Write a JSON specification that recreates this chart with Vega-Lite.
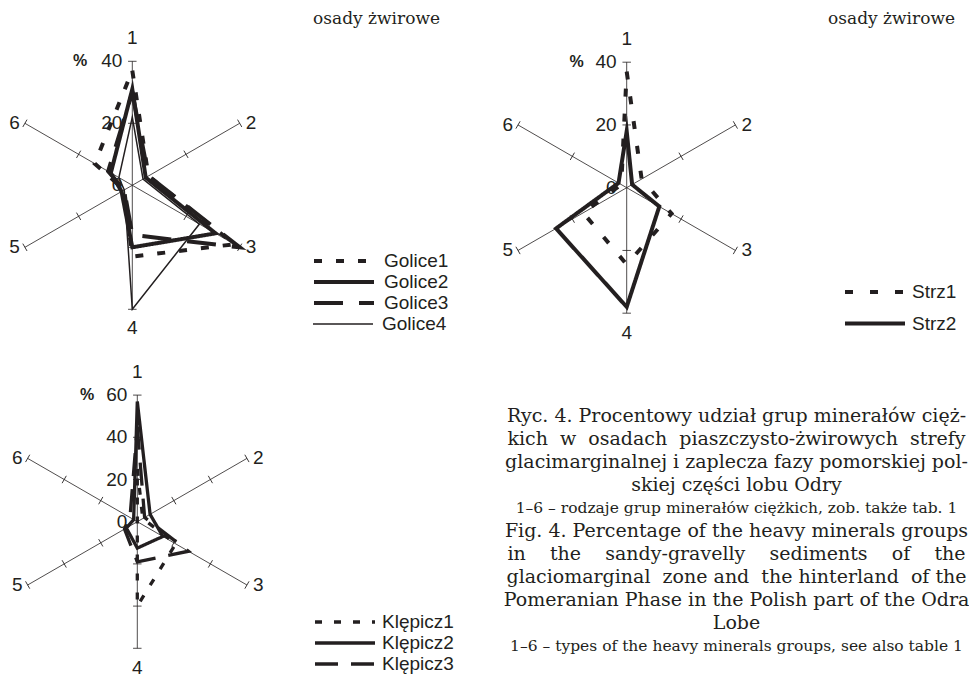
{
  "$schema": "https://vega.github.io/schema/vega-lite/v6.json",
  "padding": {"top": 10, "left": 0, "right": 0, "bottom": 0},
  "background": "white",
  "config": {
    "view": {"stroke": null},
    "text": {"font": "Liberation Sans", "color": "#231f20"},
    "title": {"font": "DejaVu Serif", "fontSize": 17, "fontWeight": "normal", "color": "#231f20", "offset": -7},
    "legend": {
      "orient": "none",
      "symbolType": "stroke",
      "symbolSize": 3600,
      "symbolStrokeColor": "#231f20",
      "labelFont": "Liberation Sans",
      "labelFontSize": 19,
      "labelColor": "#231f20",
      "labelOffset": 6,
      "clipHeight": 20,
      "padding": 0
    }
  },
  "datasets": {
    "golice": [
      {"series": "Golice1", "axis": 1, "value": 37}, {"series": "Golice1", "axis": 2, "value": 6}, {"series": "Golice1", "axis": 3, "value": 38},
      {"series": "Golice1", "axis": 4, "value": 23}, {"series": "Golice1", "axis": 5, "value": 3}, {"series": "Golice1", "axis": 6, "value": 14},
      {"series": "Golice2", "axis": 1, "value": 31}, {"series": "Golice2", "axis": 2, "value": 5}, {"series": "Golice2", "axis": 3, "value": 31},
      {"series": "Golice2", "axis": 4, "value": 20}, {"series": "Golice2", "axis": 5, "value": 4}, {"series": "Golice2", "axis": 6, "value": 8},
      {"series": "Golice3", "axis": 1, "value": 30}, {"series": "Golice3", "axis": 2, "value": 6}, {"series": "Golice3", "axis": 3, "value": 40},
      {"series": "Golice3", "axis": 4, "value": 16}, {"series": "Golice3", "axis": 5, "value": 3}, {"series": "Golice3", "axis": 6, "value": 9},
      {"series": "Golice4", "axis": 1, "value": 22}, {"series": "Golice4", "axis": 2, "value": 4}, {"series": "Golice4", "axis": 3, "value": 25},
      {"series": "Golice4", "axis": 4, "value": 40}, {"series": "Golice4", "axis": 5, "value": 3}, {"series": "Golice4", "axis": 6, "value": 5}
    ],
    "strz": [
      {"series": "Strz1", "axis": 1, "value": 37}, {"series": "Strz1", "axis": 2, "value": 5.5}, {"series": "Strz1", "axis": 3, "value": 16.5},
      {"series": "Strz1", "axis": 4, "value": 24.5}, {"series": "Strz1", "axis": 5, "value": 16}, {"series": "Strz1", "axis": 6, "value": 2},
      {"series": "Strz2", "axis": 1, "value": 18}, {"series": "Strz2", "axis": 2, "value": 2}, {"series": "Strz2", "axis": 3, "value": 12},
      {"series": "Strz2", "axis": 4, "value": 38}, {"series": "Strz2", "axis": 5, "value": 26}, {"series": "Strz2", "axis": 6, "value": 3}
    ],
    "klepicz": [
      {"series": "Klępicz1", "axis": 1, "value": 25}, {"series": "Klępicz1", "axis": 2, "value": 3}, {"series": "Klępicz1", "axis": 3, "value": 21},
      {"series": "Klępicz1", "axis": 4, "value": 40}, {"series": "Klępicz1", "axis": 5, "value": 0}, {"series": "Klępicz1", "axis": 6, "value": 0},
      {"series": "Klępicz2", "axis": 1, "value": 57}, {"series": "Klępicz2", "axis": 2, "value": 7}, {"series": "Klępicz2", "axis": 3, "value": 14},
      {"series": "Klępicz2", "axis": 4, "value": 12.5}, {"series": "Klępicz2", "axis": 5, "value": 6}, {"series": "Klępicz2", "axis": 6, "value": 2},
      {"series": "Klępicz3", "axis": 1, "value": 45}, {"series": "Klępicz3", "axis": 2, "value": 4}, {"series": "Klępicz3", "axis": 3, "value": 28},
      {"series": "Klępicz3", "axis": 4, "value": 19}, {"series": "Klępicz3", "axis": 5, "value": 7}, {"series": "Klępicz3", "axis": 6, "value": 4}
    ],
    "grid40": [
      {"axis": 1, "value": 0}, {"axis": 1, "value": 20}, {"axis": 1, "value": 40},
      {"axis": 2, "value": 20}, {"axis": 2, "value": 40},
      {"axis": 3, "value": 20}, {"axis": 3, "value": 40},
      {"axis": 4, "value": 20}, {"axis": 4, "value": 40},
      {"axis": 5, "value": 20}, {"axis": 5, "value": 40},
      {"axis": 6, "value": 20}, {"axis": 6, "value": 40}
    ],
    "grid60": [
      {"axis": 1, "value": 0}, {"axis": 1, "value": 20}, {"axis": 1, "value": 40}, {"axis": 1, "value": 60},
      {"axis": 2, "value": 20}, {"axis": 2, "value": 40}, {"axis": 2, "value": 60},
      {"axis": 3, "value": 20}, {"axis": 3, "value": 40}, {"axis": 3, "value": 60},
      {"axis": 4, "value": 20}, {"axis": 4, "value": 40}, {"axis": 4, "value": 60},
      {"axis": 5, "value": 20}, {"axis": 5, "value": 40}, {"axis": 5, "value": 60},
      {"axis": 6, "value": 20}, {"axis": 6, "value": 40}, {"axis": 6, "value": 60}
    ],
    "caption": [
      {"line": 0, "part": "caption", "text": "Ryc. 4. Procentowy udział grup minerałów cięż-"},
      {"line": 1, "part": "caption", "text": "kich \u00a0w \u00a0osadach \u00a0piaszczysto-żwirowych \u00a0strefy"},
      {"line": 2, "part": "caption", "text": "glacimarginalnej i zaplecza fazy pomorskiej pol-"},
      {"line": 3, "part": "caption", "text": "skiej części lobu Odry"},
      {"line": 4, "part": "note", "text": "1–6 – rodzaje grup minerałów ciężkich, zob. także tab. 1"},
      {"line": 5, "part": "caption", "text": "Fig. 4. Percentage of the heavy minerals groups"},
      {"line": 6, "part": "caption", "text": "in\u00a0\u00a0\u00a0\u00a0the\u00a0\u00a0\u00a0\u00a0sandy-gravelly\u00a0\u00a0\u00a0\u00a0sediments\u00a0\u00a0\u00a0\u00a0of\u00a0\u00a0\u00a0\u00a0the"},
      {"line": 7, "part": "caption", "text": "glaciomarginal \u00a0zone and \u00a0the hinterland \u00a0of the"},
      {"line": 8, "part": "caption", "text": "Pomeranian Phase in the Polish part of the Odra"},
      {"line": 9, "part": "caption", "text": "Lobe"},
      {"line": 10, "part": "note", "text": "1–6 – types of the heavy minerals groups, see also table 1"}
    ]
  },
  "resolve": {
    "scale": {"strokeDash": "independent", "strokeWidth": "independent"},
    "legend": {"strokeDash": "independent", "strokeWidth": "independent"}
  },
  "hconcat": [
    {
      "spacing": 5,
      "resolve": {
        "scale": {"strokeDash": "independent", "strokeWidth": "independent"},
        "legend": {"strokeDash": "independent", "strokeWidth": "independent"}
      },
      "vconcat": [
        {
          "width": 460,
          "height": 315,
          "title": {"text": "osady żwirowe", "anchor": "end", "frame": "group", "dx": -20},
          "encoding": {
            "x": {"field": "px", "type": "quantitative", "scale": {"domain": [-42.68, 105.71], "nice": false, "zero": false}, "axis": null},
            "y": {"field": "py", "type": "quantitative", "scale": {"domain": [-48.61, 53.0], "nice": false, "zero": false}, "axis": null}
          },
          "layer": [
            {
              "data": {"name": "grid40"},
              "transform": [
                {"calculate": "(datum.axis - 1) * PI / 3", "as": "theta"},
                {"calculate": "datum.value * sin(datum.theta)", "as": "px"},
                {"calculate": "datum.value * cos(datum.theta)", "as": "py"},
                {"calculate": "(datum.axis - 1) * 60", "as": "deg"}
              ],
              "layer": [
                {"transform": [{"filter": "datum.value == 40"}], "mark": {"type": "rule", "color": "#231f20", "strokeWidth": 0.8}, "encoding": {"x2": {"datum": 0}, "y2": {"datum": 0}}},
                {"transform": [{"filter": "datum.value > 0"}], "mark": {"type": "point", "shape": "stroke", "size": 72, "filled": false, "color": "#231f20", "strokeWidth": 0.8, "opacity": 1}, "encoding": {"angle": {"field": "deg", "type": "quantitative", "scale": null}}},
                {"transform": [{"filter": "datum.axis == 1"}], "mark": {"type": "text", "align": "right", "baseline": "middle", "dx": -10, "fontSize": 19}, "encoding": {"text": {"field": "value", "type": "quantitative"}}},
                {"transform": [{"filter": "datum.axis == 1 && datum.value == 40"}], "mark": {"type": "text", "text": "%", "align": "right", "baseline": "middle", "dx": -45, "fontSize": 16, "fontWeight": "bold"}},
                {"transform": [{"filter": "datum.value == 40 && datum.axis == 1"}], "mark": {"type": "text", "baseline": "middle", "dy": -23, "fontSize": 19}, "encoding": {"text": {"field": "axis", "type": "nominal"}}},
                {"transform": [{"filter": "datum.value == 40 && datum.axis == 4"}], "mark": {"type": "text", "baseline": "middle", "dy": 19, "fontSize": 19}, "encoding": {"text": {"field": "axis", "type": "nominal"}}},
                {"transform": [{"filter": "datum.value == 40 && (datum.axis == 2 || datum.axis == 3)"}], "mark": {"type": "text", "align": "left", "baseline": "middle", "dx": 6, "fontSize": 19}, "encoding": {"text": {"field": "axis", "type": "nominal"}}},
                {"transform": [{"filter": "datum.value == 40 && (datum.axis == 5 || datum.axis == 6)"}], "mark": {"type": "text", "align": "right", "baseline": "middle", "dx": -5, "fontSize": 19}, "encoding": {"text": {"field": "axis", "type": "nominal"}}}
              ]
            },
            {
              "data": {"name": "golice"},
              "transform": [
                {"calculate": "(datum.axis - 1) * PI / 3", "as": "theta"},
                {"calculate": "datum.value * sin(datum.theta)", "as": "px"},
                {"calculate": "datum.value * cos(datum.theta)", "as": "py"}
              ],
              "layer": [
                {
                  "transform": [{"filter": "datum.series != 'Golice4'"}],
                  "mark": {"type": "line", "interpolate": "linear-closed", "color": "#231f20", "strokeWidth": 4, "strokeJoin": "miter", "strokeMiterLimit": 10},
                  "encoding": {
                    "order": {"field": "axis", "type": "quantitative"},
                    "strokeDash": {
                      "field": "series", "type": "nominal",
                      "scale": {"domain": ["Golice1", "Golice2", "Golice3"], "range": [[8, 14], [1, 0], [29, 16]]},
                      "legend": {"title": null, "legendX": 312, "legendY": 230, "rowPadding": 1, "labelOffset": 8, "symbolStrokeWidth": 4}
                    }
                  }
                },
                {
                  "transform": [{"filter": "datum.series == 'Golice4'"}],
                  "mark": {"type": "line", "interpolate": "linear-closed", "color": "#231f20", "strokeJoin": "miter", "strokeMiterLimit": 10},
                  "encoding": {
                    "order": {"field": "axis", "type": "quantitative"},
                    "strokeWidth": {
                      "field": "series", "type": "ordinal",
                      "scale": {"domain": ["Golice4"], "range": [1.5, 1.5]},
                      "legend": {"title": null, "legendX": 312, "legendY": 293, "labelOffset": 8}
                    }
                  }
                }
              ]
            }
          ]
        },
        {
          "width": 460,
          "height": 337,
          "encoding": {
            "x": {"field": "px", "type": "quantitative", "scale": {"domain": [-65.07, 152.94], "nice": false, "zero": false}, "axis": null},
            "y": {"field": "py", "type": "quantitative", "scale": {"domain": [-75.5, 84.22], "nice": false, "zero": false}, "axis": null}
          },
          "layer": [
            {
              "data": {"name": "grid60"},
              "transform": [
                {"calculate": "(datum.axis - 1) * PI / 3", "as": "theta"},
                {"calculate": "datum.value * sin(datum.theta)", "as": "px"},
                {"calculate": "datum.value * cos(datum.theta)", "as": "py"},
                {"calculate": "(datum.axis - 1) * 60", "as": "deg"}
              ],
              "layer": [
                {"transform": [{"filter": "datum.value == 60"}], "mark": {"type": "rule", "color": "#231f20", "strokeWidth": 0.8}, "encoding": {"x2": {"datum": 0}, "y2": {"datum": 0}}},
                {"transform": [{"filter": "datum.value > 0"}], "mark": {"type": "point", "shape": "stroke", "size": 72, "filled": false, "color": "#231f20", "strokeWidth": 0.8, "opacity": 1}, "encoding": {"angle": {"field": "deg", "type": "quantitative", "scale": null}}},
                {"transform": [{"filter": "datum.axis == 1"}], "mark": {"type": "text", "align": "right", "baseline": "middle", "dx": -10, "fontSize": 19}, "encoding": {"text": {"field": "value", "type": "quantitative"}}},
                {"transform": [{"filter": "datum.axis == 1 && datum.value == 60"}], "mark": {"type": "text", "text": "%", "align": "right", "baseline": "middle", "dx": -43, "fontSize": 16, "fontWeight": "bold"}},
                {"transform": [{"filter": "datum.value == 60 && datum.axis == 1"}], "mark": {"type": "text", "baseline": "middle", "dy": -23, "fontSize": 19}, "encoding": {"text": {"field": "axis", "type": "nominal"}}},
                {"transform": [{"filter": "datum.value == 60 && datum.axis == 4"}], "mark": {"type": "text", "baseline": "middle", "dy": 20, "fontSize": 19}, "encoding": {"text": {"field": "axis", "type": "nominal"}}},
                {"transform": [{"filter": "datum.value == 60 && (datum.axis == 2 || datum.axis == 3)"}], "mark": {"type": "text", "align": "left", "baseline": "middle", "dx": 6, "fontSize": 19}, "encoding": {"text": {"field": "axis", "type": "nominal"}}},
                {"transform": [{"filter": "datum.value == 60 && (datum.axis == 5 || datum.axis == 6)"}], "mark": {"type": "text", "align": "right", "baseline": "middle", "dx": -5, "fontSize": 19}, "encoding": {"text": {"field": "axis", "type": "nominal"}}}
              ]
            },
            {
              "data": {"name": "klepicz"},
              "transform": [
                {"calculate": "(datum.axis - 1) * PI / 3", "as": "theta"},
                {"calculate": "datum.value * sin(datum.theta)", "as": "px"},
                {"calculate": "datum.value * cos(datum.theta)", "as": "py"}
              ],
              "mark": {"type": "line", "interpolate": "linear-closed", "color": "#231f20", "strokeWidth": 3.3, "strokeJoin": "miter", "strokeMiterLimit": 10},
              "encoding": {
                "order": {"field": "axis", "type": "quantitative"},
                "strokeDash": {
                  "field": "series", "type": "nominal",
                  "scale": {"domain": ["Klępicz1", "Klępicz2", "Klępicz3"], "range": [[7, 12], [1, 0], [23, 13]]},
                  "legend": {"title": null, "legendX": 313, "legendY": 268, "rowPadding": 1, "labelOffset": 5, "symbolStrokeWidth": 3.3}
                }
              }
            }
          ]
        }
      ]
    },
    {
      "spacing": 0,
      "resolve": {
        "scale": {"strokeDash": "independent", "strokeWidth": "independent"},
        "legend": {"strokeDash": "independent", "strokeWidth": "independent"}
      },
      "vconcat": [
        {
          "width": 488,
          "height": 340,
          "title": {"text": "osady żwirowe", "anchor": "end", "frame": "group"},
          "encoding": {
            "x": {"field": "px", "type": "quantitative", "scale": {"domain": [-50.9, 104.64], "nice": false, "zero": false}, "axis": null},
            "y": {"field": "py", "type": "quantitative", "scale": {"domain": [-55.24, 53.13], "nice": false, "zero": false}, "axis": null}
          },
          "layer": [
            {
              "data": {"name": "grid40"},
              "transform": [
                {"calculate": "(datum.axis - 1) * PI / 3", "as": "theta"},
                {"calculate": "datum.value * sin(datum.theta)", "as": "px"},
                {"calculate": "datum.value * cos(datum.theta)", "as": "py"},
                {"calculate": "(datum.axis - 1) * 60", "as": "deg"}
              ],
              "layer": [
                {"transform": [{"filter": "datum.value == 40"}], "mark": {"type": "rule", "color": "#231f20", "strokeWidth": 0.8}, "encoding": {"x2": {"datum": 0}, "y2": {"datum": 0}}},
                {"transform": [{"filter": "datum.value > 0"}], "mark": {"type": "point", "shape": "stroke", "size": 72, "filled": false, "color": "#231f20", "strokeWidth": 0.8, "opacity": 1}, "encoding": {"angle": {"field": "deg", "type": "quantitative", "scale": null}}},
                {"transform": [{"filter": "datum.axis == 1"}], "mark": {"type": "text", "align": "right", "baseline": "middle", "dx": -10, "fontSize": 19}, "encoding": {"text": {"field": "value", "type": "quantitative"}}},
                {"transform": [{"filter": "datum.axis == 1 && datum.value == 40"}], "mark": {"type": "text", "text": "%", "align": "right", "baseline": "middle", "dx": -43, "fontSize": 16, "fontWeight": "bold"}},
                {"transform": [{"filter": "datum.value == 40 && datum.axis == 1"}], "mark": {"type": "text", "baseline": "middle", "dy": -23, "fontSize": 19}, "encoding": {"text": {"field": "axis", "type": "nominal"}}},
                {"transform": [{"filter": "datum.value == 40 && datum.axis == 4"}], "mark": {"type": "text", "baseline": "middle", "dy": 20, "fontSize": 19}, "encoding": {"text": {"field": "axis", "type": "nominal"}}},
                {"transform": [{"filter": "datum.value == 40 && (datum.axis == 2 || datum.axis == 3)"}], "mark": {"type": "text", "align": "left", "baseline": "middle", "dx": 6, "fontSize": 19}, "encoding": {"text": {"field": "axis", "type": "nominal"}}},
                {"transform": [{"filter": "datum.value == 40 && (datum.axis == 5 || datum.axis == 6)"}], "mark": {"type": "text", "align": "right", "baseline": "middle", "dx": -5, "fontSize": 19}, "encoding": {"text": {"field": "axis", "type": "nominal"}}}
              ]
            },
            {
              "data": {"name": "strz"},
              "transform": [
                {"calculate": "(datum.axis - 1) * PI / 3", "as": "theta"},
                {"calculate": "datum.value * sin(datum.theta)", "as": "px"},
                {"calculate": "datum.value * cos(datum.theta)", "as": "py"}
              ],
              "mark": {"type": "line", "interpolate": "linear-closed", "color": "#231f20", "strokeWidth": 4, "strokeJoin": "miter", "strokeMiterLimit": 10},
              "encoding": {
                "order": {"field": "axis", "type": "quantitative"},
                "strokeDash": {
                  "field": "series", "type": "nominal",
                  "scale": {"domain": ["Strz1", "Strz2"], "range": [[8, 17], [1, 0]]},
                  "legend": {"title": null, "legendX": 376, "legendY": 261, "rowPadding": 11.6, "labelOffset": 5, "symbolStrokeWidth": 4}
                }
              }
            }
          ]
        },
        {
          "width": 499,
          "height": 317,
          "data": {"name": "caption"},
          "encoding": {
            "y": {"field": "line", "type": "quantitative", "scale": {"domain": [-2.391, 11.391], "reverse": true, "nice": false, "zero": false}, "axis": null},
            "text": {"field": "text", "type": "nominal"}
          },
          "layer": [
            {"transform": [{"filter": "datum.part == 'caption'"}], "mark": {"type": "text", "font": "DejaVu Serif", "fontSize": 19, "baseline": "middle", "dx": 20}},
            {"transform": [{"filter": "datum.part == 'note'"}], "mark": {"type": "text", "font": "DejaVu Serif", "fontSize": 15.5, "baseline": "middle", "dx": 20}}
          ]
        }
      ]
    }
  ],
  "spacing": 7
}
